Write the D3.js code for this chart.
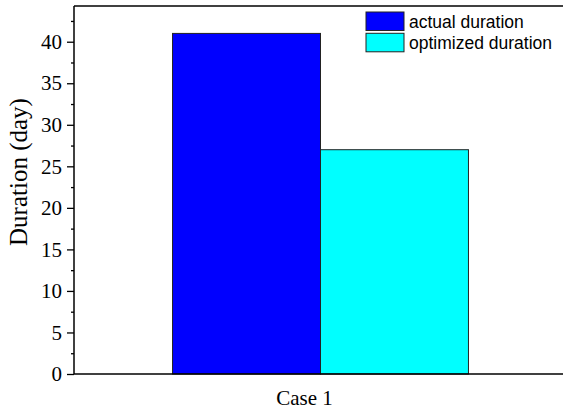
<!DOCTYPE html>
<html>
<head>
<meta charset="utf-8">
<script src="https://cdn.jsdelivr.net/npm/d3@7"></script>
<style>
  body { margin: 0; background: #fff; }
  svg { display: block; }
</style>
</head>
<body>
<div id="chart"></div>
<script>
// Data
const categories = ["Case 1"];
const seriesNames = ["actual duration", "optimized duration"];
const actualDuration = [41];
const optimizedDuration = [27];
const yTicks = [0, 5, 10, 15, 20, 25, 30, 35, 40];
const colors = ["#0000ff", "#00ffff"];

const width = 565, height = 412;
const margin = { top: 6, right: 0, bottom: 38, left: 74 };

const svg = d3.select("#chart").append("svg")
  .attr("width", width)
  .attr("height", height);

const x = d3.scaleBand()
  .domain(categories)
  .range([margin.left, 567])
  .paddingInner(0)
  .paddingOuter(0.333);

const xSub = d3.scaleBand()
  .domain(seriesNames)
  .range([0, x.bandwidth()]);

const y = d3.scaleLinear()
  .domain([0, 44.3])
  .range([height - margin.bottom, margin.top]);

const rows = categories.map((c, i) => ({
  cat: c,
  values: [actualDuration[i], optimizedDuration[i]]
}));

// Bars
const groups = svg.append("g").selectAll("g")
  .data(rows)
  .join("g")
    .attr("transform", d => `translate(${x(d.cat)},0)`);

groups.selectAll("rect")
  .data(d => d.values.map((v, j) => ({ name: seriesNames[j], value: v, j })))
  .join("rect")
    .attr("x", d => xSub(d.name))
    .attr("y", d => y(d.value))
    .attr("width", xSub.bandwidth())
    .attr("height", d => y(0) - y(d.value))
    .attr("fill", d => colors[d.j])
    .attr("stroke", "#222")
    .attr("stroke-width", 1);

// Y axis major ticks
const yAxis = svg.append("g")
  .attr("transform", `translate(${margin.left},0)`)
  .call(d3.axisLeft(y).tickValues(yTicks).tickSize(7).tickPadding(5));
yAxis.select(".domain").remove();
yAxis.selectAll("line").attr("stroke", "#000").attr("stroke-width", 1.3);
yAxis.selectAll("text")
  .attr("font-family", "'Liberation Serif', 'Times New Roman', serif")
  .attr("font-size", 21)
  .attr("fill", "#000");

// Y axis minor ticks
const minor = d3.range(2.5, 44, 5);
svg.append("g")
  .attr("transform", `translate(${margin.left},0)`)
  .call(d3.axisLeft(y).tickValues(minor).tickSize(3).tickFormat(""))
  .call(g => g.select(".domain").remove())
  .selectAll("line").attr("stroke", "#000").attr("stroke-width", 1.3);

// Axis lines
svg.append("line")
  .attr("x1", margin.left).attr("x2", margin.left)
  .attr("y1", margin.top).attr("y2", y(0))
  .attr("stroke", "#000").attr("stroke-width", 1.5);
svg.append("line")
  .attr("x1", margin.left).attr("x2", width - 2)
  .attr("y1", y(0)).attr("y2", y(0))
  .attr("stroke", "#000").attr("stroke-width", 1.5);
svg.append("line")
  .attr("x1", margin.left).attr("x2", width - 2)
  .attr("y1", margin.top).attr("y2", margin.top)
  .attr("stroke", "#000").attr("stroke-width", 1.5);

// X category label
svg.append("g").selectAll("text")
  .data(categories)
  .join("text")
    .attr("x", d => x(d) + x.bandwidth() / 2 - 16)
    .attr("y", 405)
    .attr("text-anchor", "middle")
    .attr("font-family", "'Liberation Serif', 'Times New Roman', serif")
    .attr("font-size", 21)
    .text(d => d);

// Y axis title
svg.append("text")
  .attr("transform", `translate(27,172) rotate(-90)`)
  .attr("text-anchor", "middle")
  .attr("font-family", "'Liberation Serif', 'Times New Roman', serif")
  .attr("font-size", 25)
  .text("Duration (day)");

// Legend
const legend = svg.append("g").attr("transform", "translate(366,12)");
seriesNames.forEach((name, i) => {
  const row = legend.append("g").attr("transform", `translate(0,${i * 21.3})`);
  row.append("rect")
    .attr("width", 38).attr("height", 18.5)
    .attr("fill", colors[i])
    .attr("stroke", "#222").attr("stroke-width", 1);
  row.append("text")
    .attr("x", 43).attr("y", 15.5)
    .attr("font-family", "'Liberation Sans', Arial, sans-serif")
    .attr("font-size", 17.5)
    .text(name);
});
</script>
</body>
</html>
